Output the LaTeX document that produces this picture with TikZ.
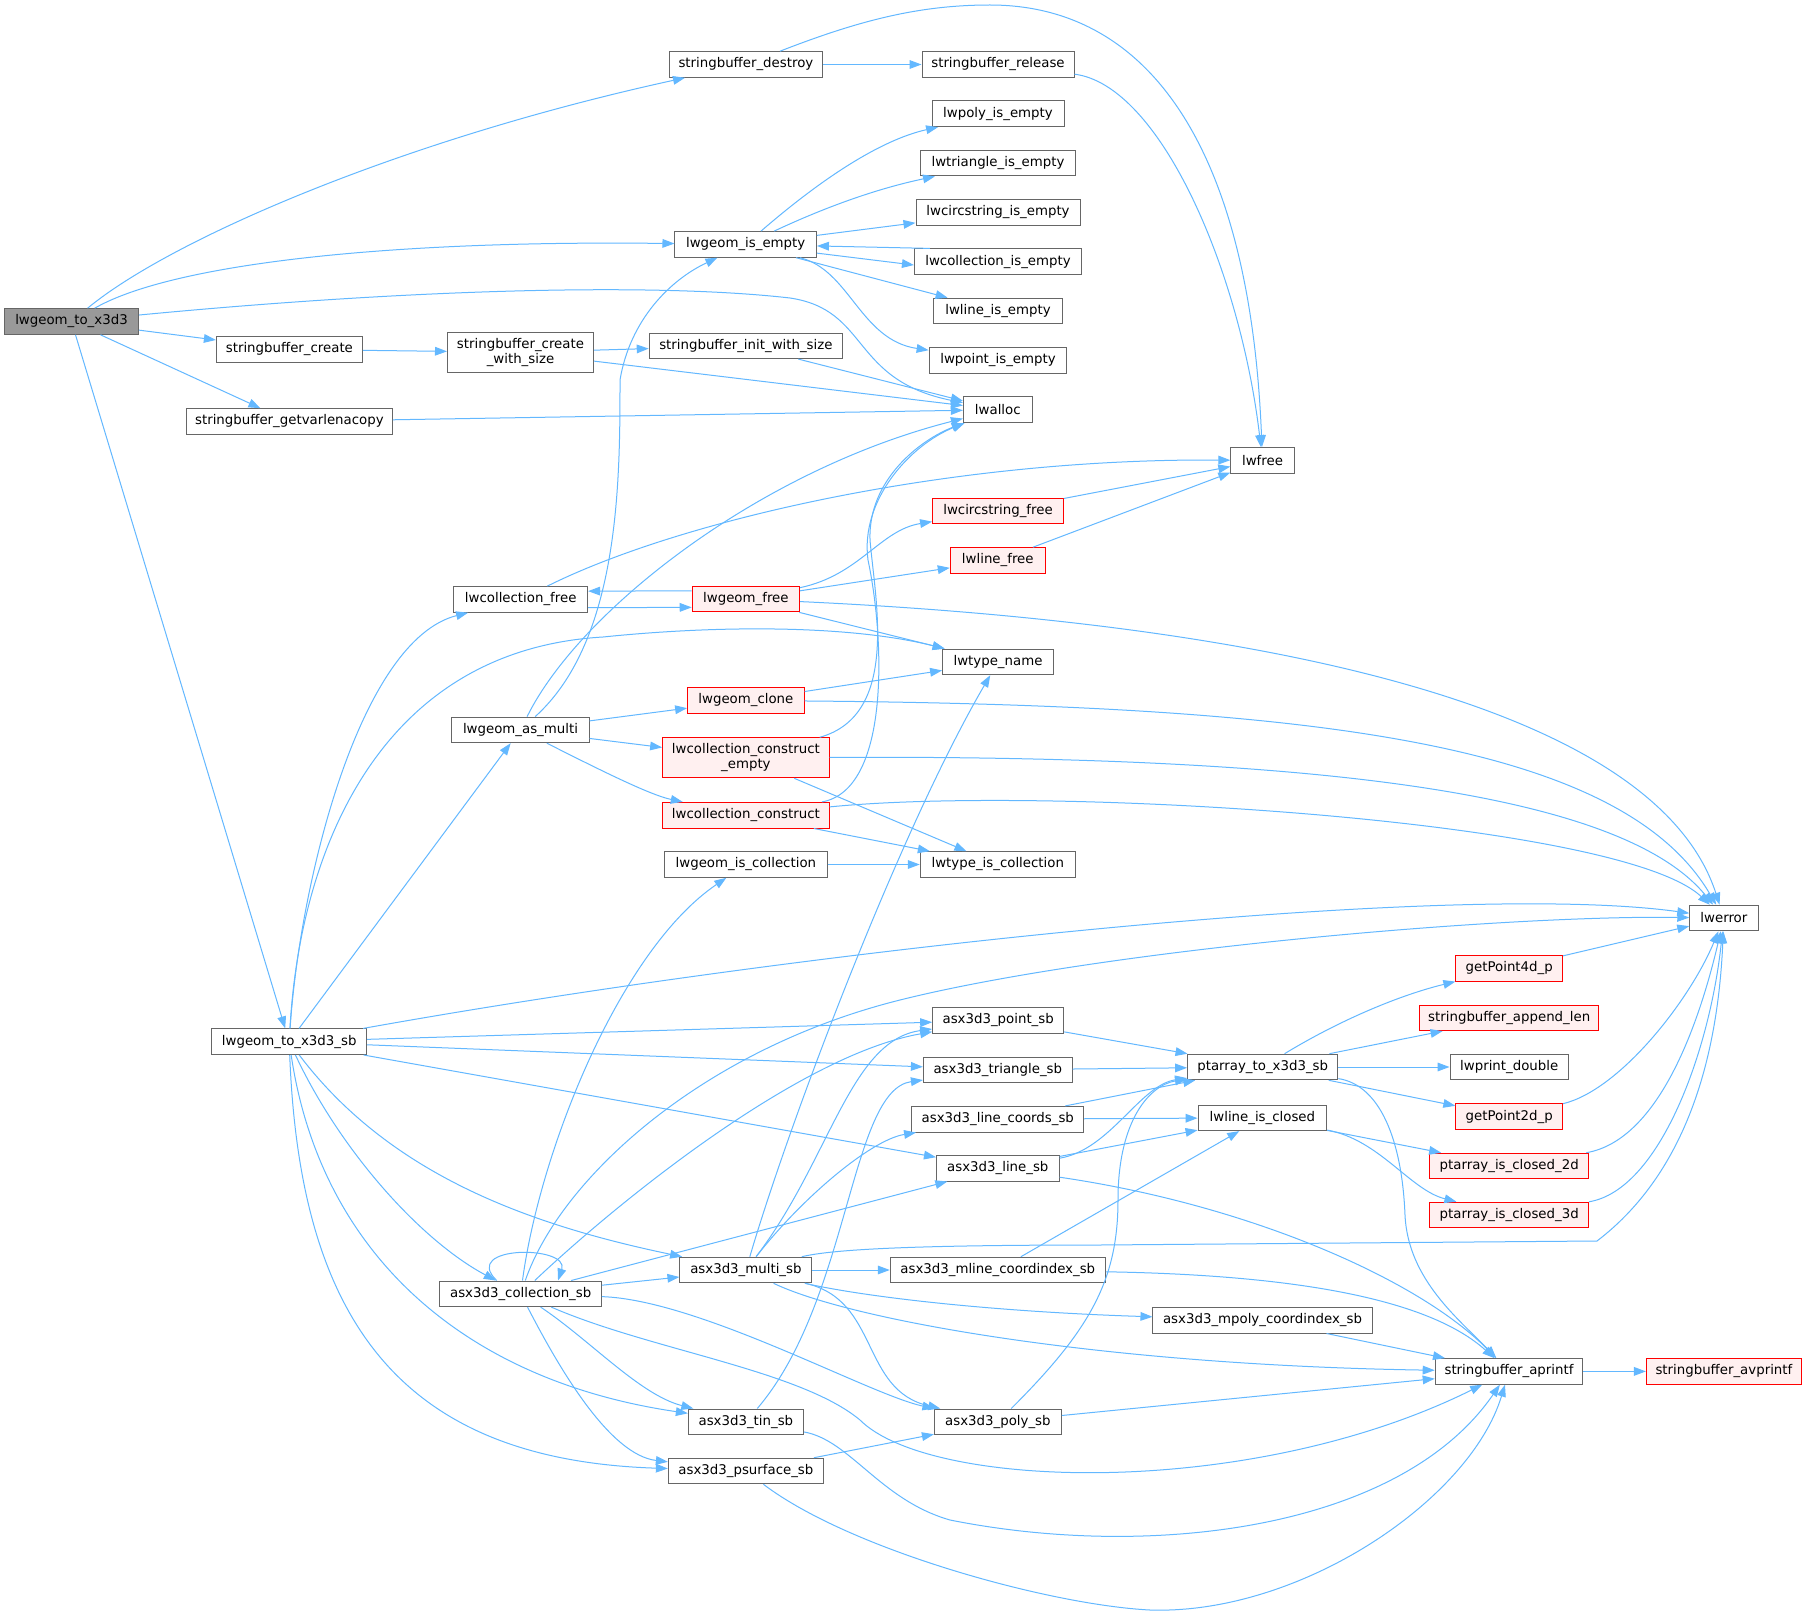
\documentclass[tikz,border=0pt]{standalone}
\usepackage{fontspec}
\setmainfont{DejaVu Sans}
\usetikzlibrary{arrows.meta}
\definecolor{edgeblue}{HTML}{63B8FF}
\definecolor{boxgray}{HTML}{666666}
\definecolor{rootfill}{HTML}{999999}
\definecolor{redfill}{HTML}{FFF0F0}
\definecolor{redline}{HTML}{FF0000}
\tikzset{
 fn/.style={draw=boxgray, fill=white, line width=0.75pt, inner sep=0pt, minimum height=19.2pt, align=center, font=\fontsize{10}{11.2}\selectfont},
 fnred/.style={fn, draw=redline, fill=redfill},
 fnroot/.style={fn, fill=rootfill},
 ca/.style={draw=edgeblue, line width=0.75pt, -{Triangle[length=9pt,width=6.5pt]}},
}
\begin{document}
\begin{tikzpicture}[x=0.75pt,y=-0.75pt]
\fill[white] (0,0) rectangle (1807,1616);
\useasboundingbox (0,0) rectangle (1807,1616);
% nodes
\node[fnroot, minimum width=100.5pt] (root) at (71.5,321.5) {lwgeom\_to\_x3d3};
\node[fn, minimum width=109.5pt] (sbcreate) at (289.4,349.4) {stringbuffer\_create};
\node[fn, minimum width=109.5pt, minimum height=30pt] (sbcws) at (520.5,352.3) {stringbuffer\_create\\\_with\_size};
\node[fn, minimum width=154.5pt] (sbgvc) at (289.4,421.5) {stringbuffer\_getvarlenacopy};
\node[fn, minimum width=114.8pt] (sbdestroy) at (745.9,64.5) {stringbuffer\_destroy};
\node[fn, minimum width=114pt] (sbrelease) at (998,64.5) {stringbuffer\_release};
\node[fn, minimum width=99pt] (polyempty) at (998,113.8) {lwpoly\_is\_empty};
\node[fn, minimum width=116.3pt] (triempty) at (998,163.1) {lwtriangle\_is\_empty};
\node[fn, minimum width=123pt] (circempty) at (998,212.4) {lwcircstring\_is\_empty};
\node[fn, minimum width=106.1pt] (geomempty) at (745.7,244.4) {lwgeom\_is\_empty};
\node[fn, minimum width=125.3pt] (collempty) at (998,261.7) {lwcollection\_is\_empty};
\node[fn, minimum width=96.4pt] (lineempty) at (998,311) {lwline\_is\_empty};
\node[fn, minimum width=103.3pt] (pointempty) at (998,360.5) {lwpoint\_is\_empty};
\node[fn, minimum width=145pt] (sbinit) at (745.9,345.8) {stringbuffer\_init\_with\_size};
\node[fn, minimum width=51.6pt] (lwalloc) at (997.8,409.7) {lwalloc};
\node[fnred, minimum width=98.1pt] (circfree) at (998,511.1) {lwcircstring\_free};
\node[fn, minimum width=47.5pt] (lwfree) at (1262.5,460.4) {lwfree};
\node[fn, minimum width=100.4pt] (collfree) at (520.7,599.4) {lwcollection\_free};
\node[fn, minimum width=103pt] (asmulti) at (520.5,729.9) {lwgeom\_as\_multi};
\node[fn, minimum width=116pt] (sb) at (289.2,1041.7) {lwgeom\_to\_x3d3\_sb};
\node[fnred, minimum width=71.3pt] (linefree) at (997.8,560.5) {lwline\_free};
\node[fnred, minimum width=80.5pt] (geomfree) at (745.9,599.1) {lwgeom\_free};
\node[fn, minimum width=83.1pt] (typename) at (998,661.9) {lwtype\_name};
\node[fnred, minimum width=87.4pt] (clone) at (745.9,700.5) {lwgeom\_clone};
\node[fnred, minimum width=124.9pt, minimum height=30pt] (cce) at (745.9,757.8) {lwcollection\_construct\\\_empty};
\node[fnred, minimum width=124.9pt] (cc) at (745.9,815.2) {lwcollection\_construct};
\node[fn, minimum width=122pt] (geomiscoll) at (745.9,864.5) {lwgeom\_is\_collection};
\node[fn, minimum width=116.3pt] (typeiscoll) at (997.8,864.5) {lwtype\_is\_collection};
\node[fn, minimum width=98.3pt] (pointsb) at (998.2,1020.2) {asx3d3\_point\_sb};
\node[fn, minimum width=111.6pt] (trisb) at (997.8,1069.8) {asx3d3\_triangle\_sb};
\node[fn, minimum width=51.2pt] (lwerror) at (1723.9,918) {lwerror};
\node[fnred, minimum width=80pt] (gp4d) at (1509.2,968.5) {getPoint4d\_p};
\node[fnred, minimum width=134.6pt] (sbappend) at (1509.2,1017.8) {stringbuffer\_append\_len};
\node[fn, minimum width=88.8pt] (printdouble) at (1509.2,1067) {lwprint\_double};
\node[fn, minimum width=112.7pt] (ptarray) at (1262.7,1067) {ptarray\_to\_x3d3\_sb};
\node[fn, minimum width=128.9pt] (linecoords) at (997.8,1119.2) {asx3d3\_line\_coords\_sb};
\node[fn, minimum width=92pt] (linesb) at (997.8,1168.2) {asx3d3\_line\_sb};
\node[fn, minimum width=98.9pt] (multisb) at (745.9,1270) {asx3d3\_multi\_sb};
\node[fn, minimum width=161.3pt] (mlinesb) at (997.8,1270) {asx3d3\_mline\_coordindex\_sb};
\node[fn, minimum width=164.3pt] (mpolysb) at (1262.5,1320.2) {asx3d3\_mpoly\_coordindex\_sb};
\node[fn, minimum width=86.3pt] (tinsb) at (745.9,1421.8) {asx3d3\_tin\_sb};
\node[fn, minimum width=95.2pt] (polysb) at (997.9,1421.8) {asx3d3\_poly\_sb};
\node[fn, minimum width=116.3pt] (psurfsb) at (745.9,1471) {asx3d3\_psurface\_sb};
\node[fn, minimum width=96.5pt] (lineclosed) at (1262.4,1117.8) {lwline\_is\_closed};
\node[fnred, minimum width=80pt] (gp2d) at (1509.2,1116.6) {getPoint2d\_p};
\node[fnred, minimum width=119pt] (closed2d) at (1509.2,1166) {ptarray\_is\_closed\_2d};
\node[fnred, minimum width=119pt] (closed3d) at (1509.2,1215) {ptarray\_is\_closed\_3d};
\node[fn, minimum width=110.7pt] (aprintf) at (1509,1371.4) {stringbuffer\_aprintf};
\node[fnred, minimum width=116.2pt] (avprintf) at (1723.9,1371.4) {stringbuffer\_avprintf};
\node[fn, minimum width=121.1pt] (collsb) at (520.7,1293.8) {asx3d3\_collection\_sb};
% edges from lwgeom_to_x3d3
\draw[ca] (root) .. controls (170,240) and (400,140) .. (sbdestroy);
\draw[ca] (root) .. controls (170,265) and (380,240) .. (geomempty);
\draw[ca] (root) .. controls (400,290) and (650,282) .. (790,298) .. controls (870,310) and (850,380) .. (lwalloc);
\draw[ca] (root) -- (sbcreate);
\draw[ca] (root) -- (sbgvc);
\draw[ca] (root) -- (sb);
% stringbuffer
\draw[ca] (sbdestroy) -- (sbrelease);
\draw[ca] (sbdestroy) .. controls (860,20) and (920,5) .. (990,5) .. controls (1150,5) and (1250,150) .. (lwfree);
\draw[ca] (sbrelease) .. controls (1160,85) and (1240,270) .. (lwfree);
\draw[ca] (sbcreate) -- (sbcws);
\draw[ca] (sbcws) -- (sbinit);
\draw[ca] (sbcws) -- (lwalloc);
\draw[ca] (sbinit) -- (lwalloc);
\draw[ca] (sbgvc) -- (lwalloc);
% lwgeom_is_empty
\draw[ca] (geomempty) .. controls (820,180) and (880,140) .. (polyempty);
\draw[ca] (geomempty) .. controls (830,205) and (880,188) .. (triempty);
\draw[ca] (geomempty) -- (circempty);
\draw[ca] ([xshift=12pt]collempty.north west) -- (geomempty);
\draw[ca] (geomempty) -- ([yshift=-2.5pt]collempty.west);
\draw[ca] (geomempty) -- (lineempty);
\draw[ca] (geomempty) .. controls (850,270) and (860,340) .. (pointempty);
% free
\draw[ca] (collfree) .. controls (680,520) and (950,458) .. (lwfree);
\draw[ca] ([yshift=-6.2pt]collfree.east) -- ([yshift=-6.2pt]geomfree.west);
\draw[ca] ([yshift=6.2pt]geomfree.west) -- ([yshift=6.2pt]collfree.east);
\draw[ca] (geomfree) .. controls (860,575) and (880,530) .. (circfree);
\draw[ca] (geomfree) -- (linefree);
\draw[ca] (geomfree) -- (typename);
\draw[ca] (geomfree) .. controls (1200,620) and (1650,690) .. (lwerror);
\draw[ca] (circfree) -- (lwfree);
\draw[ca] (linefree) -- (lwfree);
% lwgeom_as_multi
\draw[ca] (asmulti) .. controls (620,640) and (620,480) .. (620,380) .. controls (630,320) and (670,280) .. (geomempty);
\draw[ca] (asmulti) .. controls (580,610) and (760,470) .. (lwalloc);
\draw[ca] (asmulti) -- (clone);
\draw[ca] (asmulti) -- (cce);
\draw[ca] (asmulti) .. controls (600,770) and (650,795) .. (cc);
\draw[ca] (clone) -- (typename);
\draw[ca] (clone) .. controls (1300,705) and (1620,740) .. (lwerror);
\draw[ca] (cce) .. controls (900,715) and (875,600) .. (870,540) .. controls (868,480) and (920,440) .. (lwalloc);
\draw[ca] (cc) .. controls (890,790) and (885,640) .. (868,560) .. controls (860,500) and (910,445) .. (lwalloc);
\draw[ca] (cce) .. controls (1300,755) and (1620,790) .. (lwerror);
\draw[ca] (cc) .. controls (1050,785) and (1620,820) .. (lwerror);
\draw[ca] (cce) -- (typeiscoll);
\draw[ca] (cc) -- (typeiscoll);
\draw[ca] (geomiscoll) -- (typeiscoll);
% lwgeom_to_x3d3_sb
\draw[ca] (sb) .. controls (300,880) and (360,640) .. (collfree);
\draw[ca] (sb) .. controls (300,850) and (380,650) .. (603,637) .. controls (720,625) and (850,625) .. (typename);
\draw[ca] (sb) -- (asmulti);
\draw[ca] (sb) .. controls (800,950) and (1450,880) .. (lwerror);
\draw[ca] (sb) -- (pointsb);
\draw[ca] (sb) -- (trisb);
\draw[ca] (sb) -- (linesb);
\draw[ca] (sb) .. controls (390,1175) and (530,1225) .. (multisb);
\draw[ca] (sb) .. controls (340,1150) and (420,1240) .. (collsb);
\draw[ca] (sb) .. controls (320,1250) and (460,1380) .. (tinsb);
\draw[ca] (sb) .. controls (300,1320) and (400,1460) .. (psurfsb);
% asx3d3_collection_sb
\draw[ca] ([xshift=-18pt]collsb.north) .. controls (460,1245) and (570,1245) .. ([xshift=28pt]collsb.north);
\draw[ca] (collsb) .. controls (540,1150) and (620,950) .. (geomiscoll);
\draw[ca] (collsb) .. controls (560,1180) and (700,1050) .. (900,1000) .. controls (1100,950) and (1500,915) .. (lwerror);
\draw[ca] (collsb) .. controls (620,1200) and (800,1055) .. (pointsb);
\draw[ca] (collsb) -- (linesb);
\draw[ca] (collsb) -- (multisb);
\draw[ca] (collsb) .. controls (700,1300) and (870,1395) .. (polysb);
\draw[ca] (collsb) .. controls (650,1350) and (800,1370) .. (860,1420) .. controls (930,1490) and (1250,1500) .. (aprintf);
\draw[ca] (collsb) .. controls (590,1340) and (640,1395) .. (tinsb);
\draw[ca] (collsb) .. controls (560,1370) and (610,1455) .. (psurfsb);
% asx3d3_multi_sb
\draw[ca] (multisb) .. controls (790,1120) and (900,830) .. (typename);
\draw[ca] (multisb) .. controls (830,1160) and (850,1040) .. (pointsb);
\draw[ca] (multisb) .. controls (800,1200) and (870,1140) .. (linecoords);
\draw[ca] (multisb) -- (mlinesb);
\draw[ca] (multisb) .. controls (870,1298) and (1000,1312) .. (mpolysb);
\draw[ca] (multisb) .. controls (880,1300) and (860,1390) .. (polysb);
\draw[ca] (multisb) .. controls (850,1320) and (1100,1365) .. (aprintf);
\draw[ca] (multisb) .. controls (830,1250) and (900,1245) .. (1100,1245) -- (1597,1241) .. controls (1690,1170) and (1718,1050) .. (lwerror);
% others
\draw[ca] (mlinesb) -- (lineclosed);
\draw[ca] (mlinesb) .. controls (1300,1275) and (1430,1300) .. (aprintf);
\draw[ca] (mpolysb) -- (aprintf);
\draw[ca] (tinsb) .. controls (850,1300) and (850,1090) .. (trisb);
\draw[ca] (tinsb) .. controls (850,1440) and (880,1500) .. (950,1520) .. controls (1150,1560) and (1400,1530) .. (aprintf);
\draw[ca] (psurfsb) -- (polysb);
\draw[ca] (psurfsb) .. controls (850,1550) and (1050,1605) .. (1150,1610) .. controls (1300,1615) and (1470,1500) .. (aprintf);
\draw[ca] (polysb) .. controls (1090,1330) and (1118,1280) .. (1118,1200) .. controls (1118,1120) and (1150,1085) .. (ptarray);
\draw[ca] (polysb) -- (aprintf);
\draw[ca] (pointsb) -- (ptarray);
\draw[ca] (trisb) -- (ptarray);
\draw[ca] (linecoords) -- (ptarray);
\draw[ca] (linecoords) -- (lineclosed);
\draw[ca] (linesb) .. controls (1110,1150) and (1140,1085) .. (ptarray);
\draw[ca] (linesb) -- (lineclosed);
\draw[ca] (linesb) .. controls (1250,1205) and (1420,1280) .. (aprintf);
\draw[ca] (ptarray) .. controls (1340,1020) and (1400,995) .. (gp4d);
\draw[ca] (ptarray) -- (sbappend);
\draw[ca] (ptarray) -- (printdouble);
\draw[ca] (ptarray) -- (gp2d);
\draw[ca] (ptarray) .. controls (1380,1085) and (1402,1140) .. (1405,1215) .. controls (1408,1280) and (1460,1320) .. (aprintf);
\draw[ca] (gp4d) -- (lwerror);
\draw[ca] (gp2d) .. controls (1620,1090) and (1690,1000) .. (lwerror);
\draw[ca] (closed2d) .. controls (1660,1140) and (1700,1020) .. (lwerror);
\draw[ca] (closed3d) .. controls (1660,1190) and (1710,1050) .. (lwerror);
\draw[ca] (lineclosed) -- (closed2d);
\draw[ca] (lineclosed) .. controls (1380,1140) and (1410,1190) .. (closed3d);
\draw[ca] (aprintf) -- (avprintf);
\end{tikzpicture}
\end{document}
